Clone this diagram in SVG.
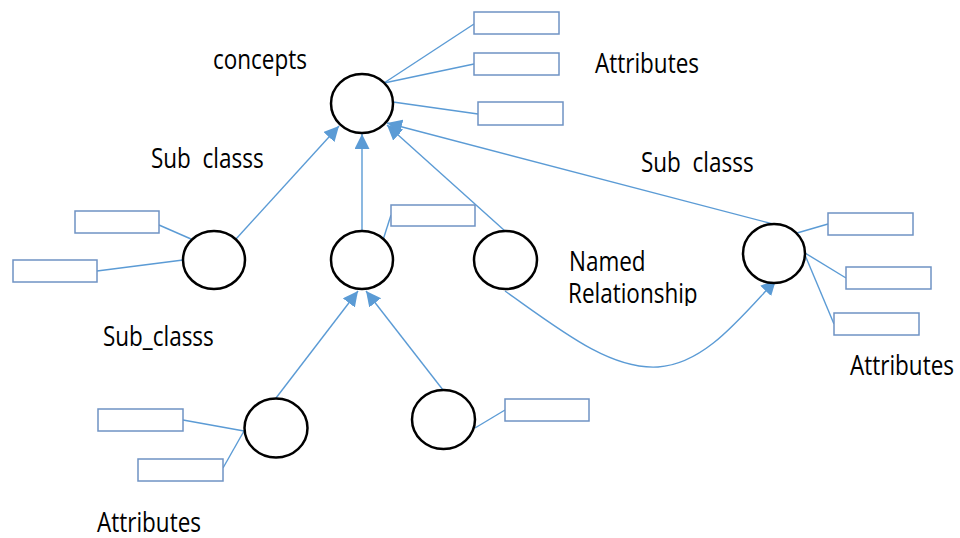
<svg xmlns="http://www.w3.org/2000/svg" width="960" height="538" viewBox="0 0 960 538">
  <style>
    .node { fill: #ffffff; stroke: #000000; stroke-width: 2.5; }
    .box { fill: #ffffff; stroke: #6f93c4; stroke-width: 1.5; }
    .link { fill: none; stroke: #5b9bd5; stroke-width: 1.4; }
    .arrow { fill: none; stroke: #5b9bd5; stroke-width: 1.4; marker-end: url(#head); }
    .label { font-family: "Open Sans", "Noto Sans", sans-serif; font-size: 22.5px; fill: #000000; }
  </style>
  <defs>
    <marker id="head" markerUnits="userSpaceOnUse" markerWidth="16" markerHeight="16" refX="15" refY="7.5" orient="auto">
      <path d="M0,0 L15,7.5 L0,15 z" fill="#5b9bd5"/>
    </marker>
    <clipPath id="cutRel">
      <rect x="540" y="240" width="200" height="66"/>
    </clipPath>
  </defs>
  <rect width="960" height="538" fill="#ffffff"/>

  <!-- connectors -->
  <g id="connectors">
    <!-- sub class links to concepts -->
    <line class="arrow" x1="236" y1="239" x2="339" y2="126"/>
    <line class="arrow" x1="362" y1="231" x2="362" y2="134"/>
    <line class="arrow" x1="505" y1="231" x2="387" y2="125"/>
    <line class="arrow" x1="773" y1="224" x2="387" y2="123"/>
    <!-- sub class links to middle node -->
    <line class="arrow" x1="276" y1="398" x2="358" y2="291"/>
    <line class="arrow" x1="443" y1="390" x2="366" y2="291"/>
    <!-- named relationship -->
    <path class="arrow" d="M505,291 C560,330 610,370 658,367 C705,364 740,318 776,280"/>
    <!-- attribute links -->
    <line class="link" x1="384" y1="83" x2="474" y2="24"/>
    <line class="link" x1="384" y1="83" x2="474" y2="64"/>
    <line class="link" x1="393" y1="102" x2="478" y2="114"/>
    <line class="link" x1="159" y1="225" x2="191" y2="239"/>
    <line class="link" x1="97" y1="271" x2="183" y2="260"/>
    <line class="link" x1="383" y1="240" x2="391" y2="215"/>
    <line class="link" x1="797" y1="233" x2="828" y2="224"/>
    <line class="link" x1="805" y1="253" x2="846" y2="278"/>
    <line class="link" x1="805" y1="255" x2="834" y2="324"/>
    <line class="link" x1="183" y1="420" x2="244" y2="431"/>
    <line class="link" x1="223" y1="468" x2="244" y2="431"/>
    <line class="link" x1="475" y1="428" x2="505" y2="410"/>
  </g>

  <!-- concepts -->
  <g id="concepts">
    <ellipse class="node" cx="362" cy="103.5" rx="31" ry="29.5"/>
    <rect class="box" x="474" y="12" width="85" height="22"/>
    <rect class="box" x="474" y="53" width="85" height="22"/>
    <rect class="box" x="478" y="102" width="85" height="23"/>
  </g>

  <!-- left sub class -->
  <g id="subLeft">
    <ellipse class="node" cx="214" cy="260" rx="31" ry="29"/>
    <rect class="box" x="75" y="211" width="84" height="22"/>
    <rect class="box" x="13" y="260" width="84" height="22"/>
  </g>

  <!-- middle sub class -->
  <g id="subMiddle">
    <ellipse class="node" cx="362" cy="260" rx="31" ry="29"/>
    <rect class="box" x="391" y="205" width="84" height="21"/>
  </g>

  <!-- named relationship source -->
  <g id="namedSource">
    <ellipse class="node" cx="505.5" cy="260" rx="31.5" ry="29"/>
  </g>

  <!-- right sub class -->
  <g id="subRight">
    <ellipse class="node" cx="774" cy="253.5" rx="31" ry="29.5"/>
    <rect class="box" x="828" y="213" width="85" height="22"/>
    <rect class="box" x="846" y="267" width="85" height="22"/>
    <rect class="box" x="834" y="313" width="85" height="22"/>
  </g>

  <!-- lower sub classes -->
  <g id="subLowerLeft">
    <ellipse class="node" cx="276" cy="428" rx="31.5" ry="29.5"/>
    <rect class="box" x="98" y="409" width="85" height="22"/>
    <rect class="box" x="138" y="459" width="85" height="22"/>
  </g>
  <g id="subLowerRight">
    <ellipse class="node" cx="443.5" cy="419.5" rx="31.5" ry="29.5"/>
    <rect class="box" x="505" y="399" width="84" height="22"/>
  </g>

  <!-- labels -->
  <g id="labels">
    <text class="label" transform="translate(213,69) scale(1,1.22)">concepts</text>
    <text class="label" transform="translate(595,72.5) scale(1,1.22)">Attributes</text>
    <text class="label" transform="translate(151,168) scale(1,1.22)" xml:space="preserve">Sub  classs</text>
    <text class="label" transform="translate(641,172) scale(1,1.22)" xml:space="preserve">Sub  classs</text>
    <text class="label" transform="translate(569,271) scale(1,1.22)">Named</text>
    <g clip-path="url(#cutRel)">
      <text class="label" transform="translate(568,303) scale(1,1.22)">Relationship</text>
    </g>
    <text class="label" transform="translate(103,346) scale(1,1.22)">Sub_classs</text>
    <text class="label" transform="translate(850,375) scale(1,1.22)">Attributes</text>
    <text class="label" transform="translate(97,532) scale(1,1.22)">Attributes</text>
  </g>
</svg>
